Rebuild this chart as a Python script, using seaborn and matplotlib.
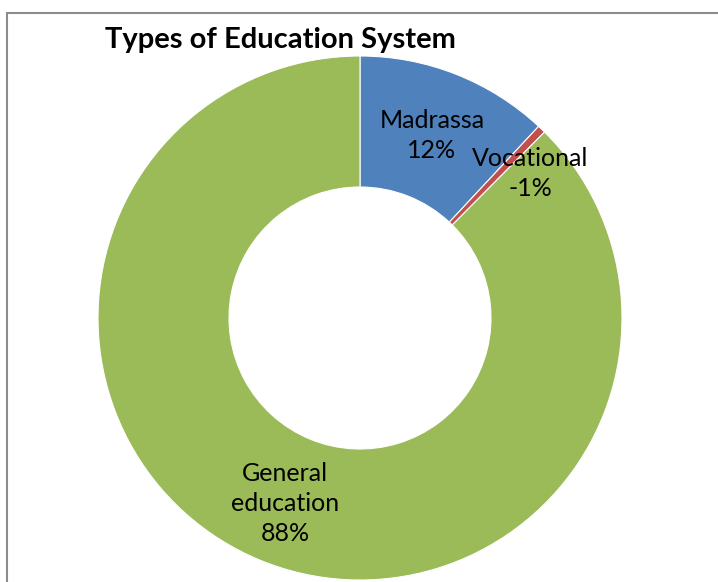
import matplotlib
matplotlib.use("Agg")
import matplotlib.pyplot as plt
from matplotlib.lines import Line2D
import seaborn as sns

# Education system shares
categories = ["Madrassa", "Vocational", "General\neducation"]
shares = [12, 0.5, 88]
pct_labels = ["12%", "-1%", "88%"]
colors = ["#4F81BD", "#C0504D", "#9BBB59"]

sns.set_theme(style="white")
plt.rcParams["font.family"] = ["Lato", "DejaVu Sans"]

W, H = 718, 582
fig = plt.figure(figsize=(W / 100, H / 100), dpi=100)
fig.patch.set_facecolor("white")

# Square axes holding the doughnut
cx, cy, r = 360, 318, 262
ax = fig.add_axes([(cx - r) / W, (H - cy - r) / H, 2 * r / W, 2 * r / H])

labels = [f"{c}\n{p}" for c, p in zip(categories, pct_labels)]
wedges, texts = ax.pie(
    shares,
    labels=labels,
    colors=colors,
    startangle=90,
    counterclock=False,
    radius=1.0,
    labeldistance=0.75,
    wedgeprops=dict(width=0.5, edgecolor="white", linewidth=0.8),
    textprops=dict(fontsize=18, color="black", ha="center", va="center",
                   linespacing=1.38),
)
for t in texts:
    t.set_horizontalalignment("center")
    t.set_verticalalignment("center")
# Vocational label nudged outward beside its thin wedge
vx, vy = texts[1].get_position()
texts[1].set_position((vx + 0.13, vy + 0.01))
gx, gy = texts[2].get_position()
texts[2].set_position((gx, gy - 0.015))

ax.set_xlim(-1, 1)
ax.set_ylim(-1, 1)
ax.set_aspect("equal")
ax.axis("off")

fig.text(105 / W, 1 - 40 / H, "Types of Education System", fontsize=21,
         fontweight="bold", ha="left", va="center", color="black")

# Chart area border (top and left edges)
fig.add_artist(Line2D([7 / W, 1], [1 - 13 / H, 1 - 13 / H], color="#8c8c8c", lw=1.5))
fig.add_artist(Line2D([7 / W, 7 / W], [1 - 13 / H, 0], color="#8c8c8c", lw=1.5))

fig.savefig("out.png", dpi=100, facecolor="white")
